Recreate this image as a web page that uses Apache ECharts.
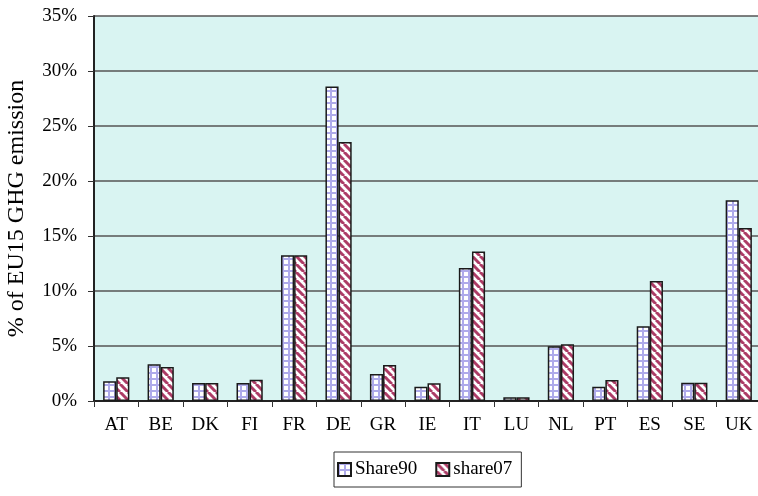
<!DOCTYPE html>
<html><head><meta charset="utf-8">
<script src="https://cdn.jsdelivr.net/npm/echarts@6/dist/echarts.min.js"></script>
<style>html,body{margin:0;padding:0;background:#fff}#c{width:758px;height:496px}</style>
</head><body><div id="c"></div>
<script>
const categories = ['AT','BE','DK','FI','FR','DE','GR','IE','IT','LU','NL','PT','ES','SE','UK'];
const share90 = [1.8,3.33,1.64,1.64,13.25,28.6,2.45,1.3,12.1,0.33,4.97,1.3,6.8,1.67,18.25];
const share07 = [2.15,3.1,1.64,1.94,13.25,23.55,3.27,1.62,13.6,0.33,5.15,1.9,10.9,1.67,15.73];
const yTicks = [0,5,10,15,20,25,30,35];

function gridPattern(){
  const c=document.createElement('canvas');c.width=6;c.height=6;
  const g=c.getContext('2d');
  g.fillStyle='#ffffff';g.fillRect(0,0,6,6);
  g.fillStyle='#aeaaea';
  g.fillRect(0,0,6,2);g.fillRect(0,0,2,6);
  return c;
}
function stripePattern(){
  const s=8;const c=document.createElement('canvas');c.width=s;c.height=s;
  const g=c.getContext('2d');
  g.fillStyle='#ffffff';g.fillRect(0,0,s,s);
  g.strokeStyle='#ad3c66';g.lineWidth=3;
  for(let k=-2;k<=2;k++){g.beginPath();g.moveTo(k*s,0);g.lineTo(k*s+s,s);g.stroke();}
  return c;
}
const chart=echarts.init(document.getElementById('c'));
const font='Liberation Serif';
chart.setOption({
  animation:false,
  textStyle:{fontFamily:font},
  grid:{left:94,right:-3,top:16,bottom:95,backgroundColor:'#d9f4f2',show:true,borderWidth:0,outerBoundsMode:'none',containLabel:false},
  legend:{
    top:452,left:334,itemWidth:13,itemHeight:13,itemGap:18,
    padding:[8,9,8,3],borderColor:'#333',borderWidth:1,backgroundColor:'#fff',
    textStyle:{fontFamily:font,fontSize:19,color:'#000',padding:[0,0,0,-1]},
    data:[{name:'Share90',icon:'rect'},{name:'share07',icon:'rect'}]
  },
  xAxis:{
    type:'category',data:categories,
    axisLine:{lineStyle:{color:'#222',width:2}},
    axisTick:{show:true,length:6,lineStyle:{color:'#333',width:1}},
    axisLabel:{fontFamily:font,fontSize:19,color:'#000',margin:15}
  },
  yAxis:{
    type:'value',min:0,max:35,interval:5,
    name:'% of EU15 GHG emission',nameLocation:'middle',nameGap:65,
    nameTextStyle:{fontFamily:font,fontSize:24,color:'#000'},
    axisLine:{show:true,lineStyle:{color:'#222',width:2}},
    axisTick:{show:true,length:6,lineStyle:{color:'#333'}},
    axisLabel:{fontFamily:font,fontSize:19,color:'#000',margin:17,formatter:v=>yTicks.includes(v)?v+'%':''},
    splitLine:{lineStyle:{color:'#555',width:1.5}}
  },
  series:[
    {name:'Share90',type:'bar',data:share90,barGap:'0%',barCategoryGap:'41%',
     itemStyle:{color:{image:gridPattern(),repeat:'repeat'},borderColor:'#1a1a1a',borderWidth:1.5}},
    {name:'share07',type:'bar',data:share07,
     itemStyle:{color:{image:stripePattern(),repeat:'repeat'},borderColor:'#1a1a1a',borderWidth:1.5}}
  ]
});
</script></body></html>
